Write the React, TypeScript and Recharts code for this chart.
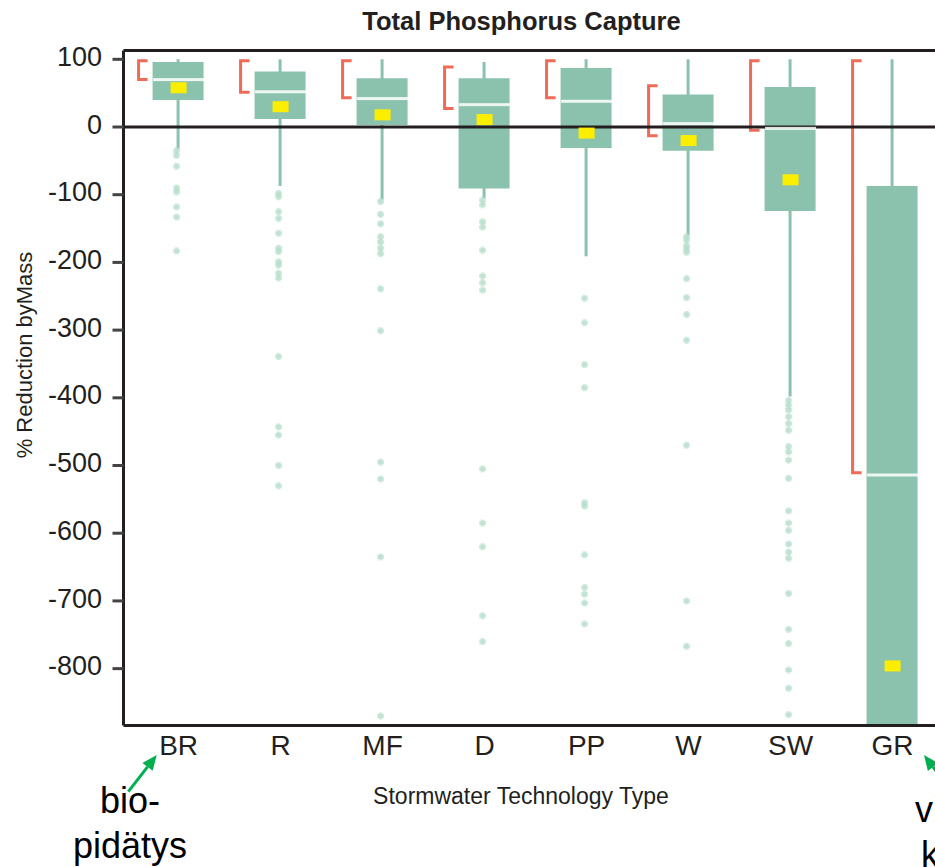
import React from 'react';
import { ComposedChart, Bar, Scatter, XAxis, YAxis, ReferenceLine } from 'recharts';

const categories = ['BR', 'R', 'MF', 'D', 'PP', 'W', 'SW', 'GR'];
const whiskerHigh = [100, 100, 100, 96, 100, 100, 100, 100];
const q3 = [96, 82, 72, 72, 87, 48, 59, -87];
const medians = [70, 52, 42, 33, 38, 5, -2, -514];
const q1 = [40, 12, 3, -91, -31, -35, -124, -1000];
const whiskerLow = [-32, -87, -107, -105, -191, -160, -398, -1000];
const means = [58, 30, 18, 11, -9, -20, -78, -796];
const ciHigh = [100, 100, 100, 91, 100, 63, 100, 100];
const ciLow = [68, 49, 41, 25, 41, -15, -7, -513];

const outliers: number[][] = [
  [-35, -42, -58, -90, -96, -118, -133, -183],
  [-98, -103, -125, -135, -157, -179, -184, -199, -204, -216, -223, -339, -443, -455, -500, -530],
  [-110, -129, -143, -162, -170, -179, -187, -239, -301, -495, -520, -635, -870],
  [-108, -115, -140, -148, -182, -220, -230, -241, -505, -585, -620, -722, -760],
  [-253, -289, -351, -385, -555, -560, -632, -680, -690, -703, -734],
  [-162, -167, -175, -180, -185, -224, -252, -277, -315, -470, -700, -767],
  [-404, -411, -418, -428, -438, -448, -472, -480, -492, -519, -567, -585, -596, -616, -628, -637, -689, -742, -763, -802, -829, -868],
  [],
];

const yTicks = [100, 0, -100, -200, -300, -400, -500, -600, -700, -800];

const GREEN = '#8bc2ad';
const DOT = '#b3ddc9';
const RED = '#ee6b57';
const YELLOW = '#fcee00';
const INK = '#231f20';
const ARROW = '#00b050';
const FONT = '"Liberation Sans", Arial, sans-serif';

const boxData = categories.map((name, i) => ({
  idx: i,
  name,
  whisker: [whiskerLow[i], whiskerHigh[i]],
  box: [q1[i], q3[i]],
  ci: [ciLow[i], ciHigh[i]],
}));
const medianData = categories.map((_, i) => ({ idx: i, value: medians[i] }));
const meanData = categories.map((_, i) => ({ idx: i, value: means[i] }));
const outlierData = outliers.flatMap((vals, i) => vals.map((v) => ({ idx: i, value: v })));

const X_DOMAIN: [number, number] = [-0.54, 7.9];
const Y_DOMAIN: [number, number] = [-884, 113];

const Bracket = (props: any) => {
  const { x, y, width, height } = props;
  const cx = x + width / 2;
  const top = Math.min(y, y + height) + 1.5;
  const bot = Math.max(y, y + height) - 1.5;
  return (
    <path
      d={`M${cx - 31} ${top} L${cx - 40} ${top} L${cx - 40} ${bot} L${cx - 31} ${bot}`}
      stroke={RED}
      strokeWidth={3}
      fill="none"
    />
  );
};

const MedianMark = (props: any) => (
  <rect x={props.cx - 25.5} y={props.cy - 1.5} width={51} height={3} fill="#fff" fillOpacity={0.85} />
);

const MeanMark = (props: any) => (
  <rect x={props.cx - 8} y={props.cy - 5.5} width={16} height={11} fill={YELLOW} />
);

const OutlierMark = (props: any) => (
  <g fill={DOT} fillOpacity={0.6}>
    <rect x={props.cx - 5.5} y={props.cy - 2} width={7} height={4} />
    <rect x={props.cx - 4} y={props.cy - 3.5} width={4} height={7} />
  </g>
);

const YTick = (props: any) => (
  <text x={props.x} y={props.y - 3} dy="0.355em" textAnchor="end" fontSize={27} fill={INK} fontFamily={FONT}>
    {props.payload.value}
  </text>
);

const XTick = (props: any) => (
  <text x={props.x} y={props.y} dy="0.71em" textAnchor="middle" fontSize={28} fill={INK} fontFamily={FONT}>
    {categories[props.payload.value]}
  </text>
);

function Arrow({ tail, tip }: { tail: [number, number]; tip: [number, number] }) {
  const dx = tip[0] - tail[0];
  const dy = tip[1] - tail[1];
  const len = Math.hypot(dx, dy);
  const ux = dx / len;
  const uy = dy / len;
  const bx = tip[0] - ux * 15;
  const by = tip[1] - uy * 15;
  const nx = -uy;
  const ny = ux;
  return (
    <g>
      <line x1={tail[0]} y1={tail[1]} x2={bx} y2={by} stroke={ARROW} strokeWidth={3} />
      <polygon
        points={`${tip[0]},${tip[1]} ${bx + nx * 6.5},${by + ny * 6.5} ${bx - nx * 6.5},${by - ny * 6.5}`}
        fill={ARROW}
      />
    </g>
  );
}

export default function App() {
  return (
    <div
      style={{
        position: 'absolute',
        left: 0,
        top: 0,
        width: 935,
        height: 867,
        overflow: 'hidden',
        background: '#fff',
        fontFamily: FONT,
      }}
    >
      <ComposedChart
        width={990}
        height={867}
        data={boxData}
        margin={{ top: 50.5, right: 5.62, bottom: 0, left: 0 }}
      >
        <XAxis
          xAxisId="x"
          dataKey="idx"
          type="number"
          domain={X_DOMAIN}
          ticks={[0, 1, 2, 3, 4, 5, 6, 7]}
          interval={0}
          tick={<XTick />}
          tickLine={false}
          tickSize={0}
          tickMargin={9.5}
          height={141.5}
          axisLine={{ stroke: INK, strokeWidth: 3 }}
          allowDataOverflow
        />
        <XAxis xAxisId="w" orientation="top" height={0} dataKey="idx" type="number" domain={X_DOMAIN} hide allowDataOverflow />
        <XAxis xAxisId="b" orientation="top" height={0} dataKey="idx" type="number" domain={X_DOMAIN} hide allowDataOverflow />
        <XAxis xAxisId="c" orientation="top" height={0} dataKey="idx" type="number" domain={X_DOMAIN} hide allowDataOverflow />
        <YAxis
          type="number"
          domain={Y_DOMAIN}
          ticks={yTicks}
          interval={0}
          allowDataOverflow
          width={123.5}
          tick={<YTick />}
          tickSize={11}
          tickMargin={10.5}
          tickLine={{ stroke: '#444', strokeWidth: 3 }}
          axisLine={{ stroke: INK, strokeWidth: 3 }}
        />
        <ReferenceLine xAxisId="x" y={Y_DOMAIN[1]} stroke={INK} strokeWidth={3} ifOverflow="visible" />
        <ReferenceLine xAxisId="x" y={0} stroke={INK} strokeWidth={3} />
        <Bar xAxisId="w" dataKey="whisker" barSize={3} fill={GREEN} isAnimationActive={false} />
        <Bar xAxisId="b" dataKey="box" barSize={51} fill={GREEN} isAnimationActive={false} />
        <Bar xAxisId="c" dataKey="ci" barSize={2} shape={<Bracket />} isAnimationActive={false} />
        <Scatter xAxisId="x" data={outlierData} dataKey="value" shape={<OutlierMark />} isAnimationActive={false} />
        <Scatter xAxisId="x" data={medianData} dataKey="value" shape={<MedianMark />} isAnimationActive={false} />
        <Scatter xAxisId="x" data={meanData} dataKey="value" shape={<MeanMark />} isAnimationActive={false} />
      </ComposedChart>

      <svg
        width={935}
        height={867}
        style={{ position: 'absolute', left: 0, top: 0, pointerEvents: 'none' }}
        fontFamily={FONT}
      >
        <text x={521.5} y={29.5} textAnchor="middle" fontSize={25.5} fontWeight="bold" fill={INK}>
          Total Phosphorus Capture
        </text>
        <text transform="translate(32,355) rotate(-90)" textAnchor="middle" fontSize={22} fill={INK}>
          % Reduction byMass
        </text>
        <text x={521} y={804} textAnchor="middle" fontSize={23} fill={INK}>
          Stormwater Technology Type
        </text>
        <Arrow tail={[128.3, 791.7]} tip={[156.7, 755]} />
        <text x={130} y={813} textAnchor="middle" fontSize={36} fill="#000">
          bio-
        </text>
        <text x={130} y={858} textAnchor="middle" fontSize={36} fill="#000">
          pidätys
        </text>
        <Arrow tail={[952, 792]} tip={[924, 755]} />
        <text x={960} y={822} textAnchor="middle" fontSize={36} fill="#000">
          viher-
        </text>
        <text x={960} y={867} textAnchor="middle" fontSize={36} fill="#000">
          katto
        </text>
      </svg>
    </div>
  );
}
